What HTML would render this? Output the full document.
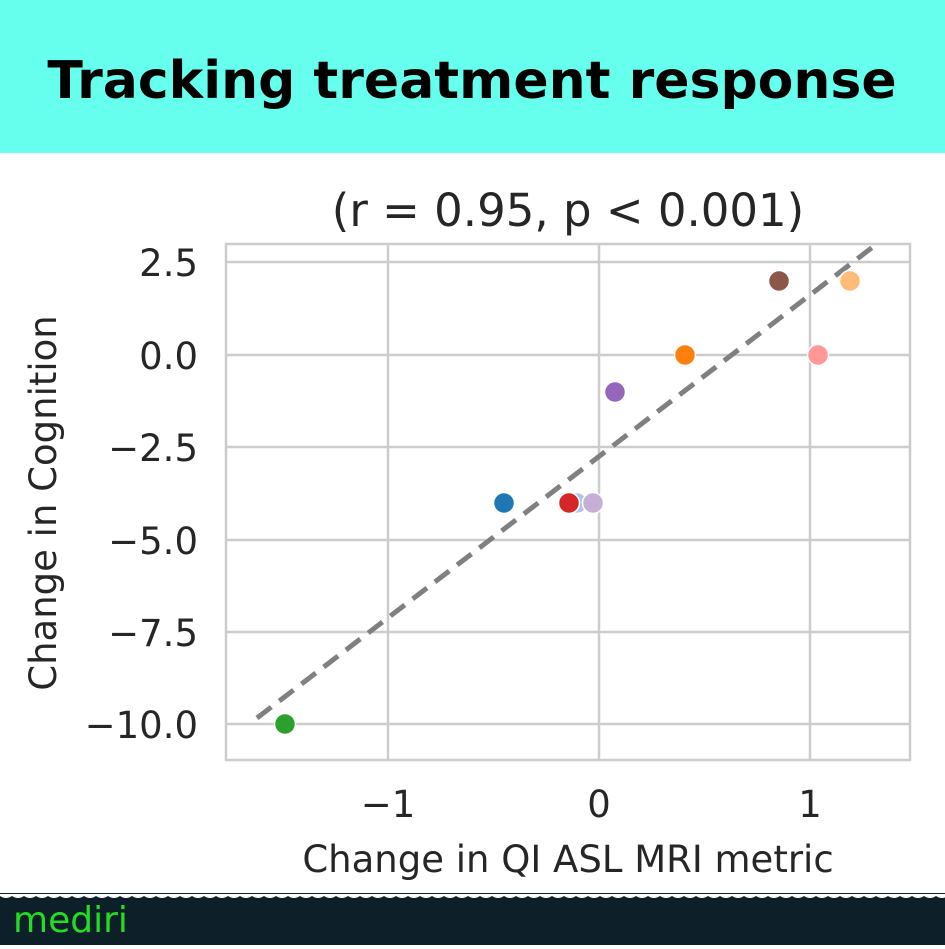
<!DOCTYPE html>
<html><head><style>
body{margin:0;width:945px;height:945px;overflow:hidden;background:#fff;font-family:"DejaVu Sans","Liberation Sans",sans-serif}
</style></head><body>
<svg width="945" height="945" xmlns="http://www.w3.org/2000/svg">
<rect x="0" y="0" width="945" height="153" fill="#66ffee"/>
<text x="472" y="98" text-anchor="middle" font-family="'DejaVu Sans',sans-serif" font-weight="bold" font-size="52" fill="#000">Tracking treatment response</text>
<text x="568" y="226" text-anchor="middle" font-size="45" fill="#262626">(r = 0.95, p &lt; 0.001)</text>
<g stroke="#cccccc" stroke-width="2.5" fill="none">
<rect x="226" y="244" width="684" height="516"/>
<line x1="388" y1="244" x2="388" y2="760"/>
<line x1="599" y1="244" x2="599" y2="760"/>
<line x1="810" y1="244" x2="810" y2="760"/>
<line x1="226" y1="262" x2="910" y2="262"/>
<line x1="226" y1="355" x2="910" y2="355"/>
<line x1="226" y1="447" x2="910" y2="447"/>
<line x1="226" y1="540" x2="910" y2="540"/>
<line x1="226" y1="632" x2="910" y2="632"/>
<line x1="226" y1="724" x2="910" y2="724"/>
</g>
<g font-size="37" fill="#262626" text-anchor="end">
<text x="198" y="276">2.5</text>
<text x="198" y="369">0.0</text>
<text x="198" y="461">−2.5</text>
<text x="198" y="554">−5.0</text>
<text x="198" y="646">−7.5</text>
<text x="198" y="738">−10.0</text>
</g>
<g font-size="37" fill="#262626" text-anchor="middle">
<text x="388" y="817">−1</text>
<text x="599" y="817">0</text>
<text x="810" y="817">1</text>
<text x="568" y="872">Change in QI ASL MRI metric</text>
</g>
<text transform="translate(56,503) rotate(-90)" text-anchor="middle" font-size="37" fill="#262626">Change in Cognition</text>
<line x1="257" y1="718" x2="878" y2="243" stroke="#808080" stroke-width="5" stroke-dasharray="18,10"/>
<g stroke="#fff" stroke-width="1.5">
<circle cx="504" cy="503" r="10.5" fill="#1f77b4"/>
<circle cx="577" cy="503" r="10.5" fill="#aec7e8"/>
<circle cx="569" cy="503" r="10.5" fill="#d62728"/>
<circle cx="593" cy="503" r="10.5" fill="#c5b0d5"/>
<circle cx="615" cy="392" r="10.5" fill="#9467bd"/>
<circle cx="685" cy="355" r="10.5" fill="#ff7f0e"/>
<circle cx="779" cy="281" r="10.5" fill="#8c564b"/>
<circle cx="818" cy="355" r="10.5" fill="#ff9896"/>
<circle cx="850" cy="281" r="10.5" fill="#ffbb78"/>
<circle cx="285" cy="724" r="10.5" fill="#2ca02c"/>
</g>
<rect x="0" y="893" width="945" height="52" fill="#0d1f28"/>
<rect x="0" y="894" width="945" height="2" fill="#fff"/>
<path d="M0 896 q6 4 12 0 q6 4 12 0 q6 4 12 0 q6 4 12 0 q6 4 12 0 q6 4 12 0 q6 4 12 0 q6 4 12 0 q6 4 12 0 q6 4 12 0 q6 4 12 0 q6 4 12 0 q6 4 12 0 q6 4 12 0 q6 4 12 0 q6 4 12 0 q6 4 12 0 q6 4 12 0 q6 4 12 0 q6 4 12 0 q6 4 12 0 q6 4 12 0 q6 4 12 0 q6 4 12 0 q6 4 12 0 q6 4 12 0 q6 4 12 0 q6 4 12 0 q6 4 12 0 q6 4 12 0 q6 4 12 0 q6 4 12 0 q6 4 12 0 q6 4 12 0 q6 4 12 0 q6 4 12 0 q6 4 12 0 q6 4 12 0 q6 4 12 0 q6 4 12 0 q6 4 12 0 q6 4 12 0 q6 4 12 0 q6 4 12 0 q6 4 12 0 q6 4 12 0 q6 4 12 0 q6 4 12 0 q6 4 12 0 q6 4 12 0 q6 4 12 0 q6 4 12 0 q6 4 12 0 q6 4 12 0 q6 4 12 0 q6 4 12 0 q6 4 12 0 q6 4 12 0 q6 4 12 0 q6 4 12 0 q6 4 12 0 q6 4 12 0 q6 4 12 0 q6 4 12 0 q6 4 12 0 q6 4 12 0 q6 4 12 0 q6 4 12 0 q6 4 12 0 q6 4 12 0 q6 4 12 0 q6 4 12 0 q6 4 12 0 q6 4 12 0 q6 4 12 0 q6 4 12 0 q6 4 12 0 q6 4 12 0 q6 4 12 0 q6 4 12 0 L945 896 Z" fill="#fff"/>
<text x="13" y="932" font-size="36" fill="#22dd22" font-family="'DejaVu Sans',sans-serif">mediri</text>
</svg>
</body></html>
